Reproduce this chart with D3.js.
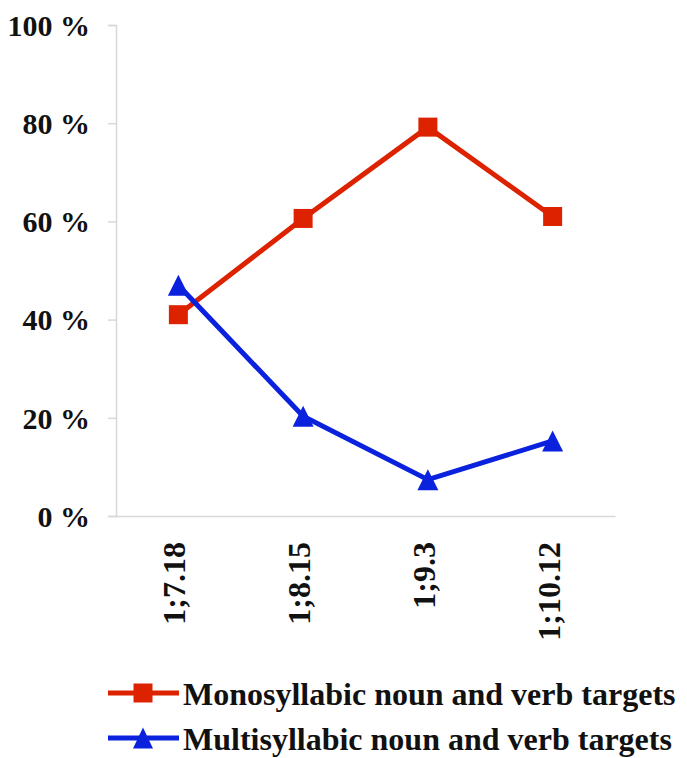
<!DOCTYPE html>
<html><head><meta charset="utf-8">
<script src="https://cdn.jsdelivr.net/npm/d3@7"></script>
<style>body{margin:0;background:#fff}svg{display:block}</style>
</head><body>
<svg id="c" width="687" height="758"></svg>
<script>
const categories = ["1;7.18", "1;8.15", "1;9.3", "1;10.12"];
const monosyllabic = [41, 60.6, 79.2, 61];
const multisyllabic = [47, 20.3, 7.4, 15.3];
const yTicks = [0, 20, 40, 60, 80, 100];
const seriesNames = ["Monosyllabic noun and verb targets", "Multisyllabic noun and verb targets"];

const svg = d3.select("#c");
const font = "'Liberation Serif', 'Times New Roman', serif";
const x = d3.scaleBand().domain(categories).range([116, 615]);
const y = d3.scaleLinear().domain([0, 100]).range([516, 25]);

// y axis
const ya = svg.append("g").attr("transform", "translate(116,0)")
  .call(d3.axisLeft(y).tickValues(yTicks).tickSize(8).tickPadding(18).tickFormat(d => d + " %"));
ya.select(".domain").attr("stroke", "#d8d8d8").attr("stroke-width", 1.5);
ya.selectAll(".tick line").attr("stroke", "#d8d8d8").attr("stroke-width", 1.5);
ya.selectAll("text").style("font-family", font).attr("font-weight", "bold").attr("font-size", 30).attr("fill", "#111").attr("dy", "0.34em");

// x axis
const xa = svg.append("g").attr("transform", "translate(0,516)")
  .call(d3.axisBottom(x).tickSize(0).tickPadding(0));
xa.select(".domain").attr("stroke", "#d8d8d8").attr("stroke-width", 1.5);
xa.selectAll("text").style("font-family", font).attr("font-weight", "bold").attr("font-size", 32).attr("fill", "#111")
  .attr("transform", "rotate(-90)").attr("text-anchor", "end").attr("dy", "0.22em").attr("x", -26).attr("y", 0);

const cx = d => x(d) + x.bandwidth() / 2;
const line = d3.line().x((d, i) => cx(categories[i])).y(d => y(d));

const red = "#dd2200", blue = "#0a22dd";
svg.append("path").datum(monosyllabic).attr("d", line).attr("fill", "none").attr("stroke", red).attr("stroke-width", 5);
svg.append("path").datum(multisyllabic).attr("d", line).attr("fill", "none").attr("stroke", blue).attr("stroke-width", 5);

const sq = s => `M${-s/2},${-s/2}h${s}v${s}h${-s}Z`;
const tri = (w, h) => `M0,${-h/2}L${w/2},${h/2}L${-w/2},${h/2}Z`;
svg.selectAll(".m").data(monosyllabic).join("path").attr("d", sq(19))
  .attr("transform", (d, i) => `translate(${cx(categories[i])},${y(d)})`).attr("fill", red);
svg.selectAll(".t").data(multisyllabic).join("path").attr("d", tri(21, 21))
  .attr("transform", (d, i) => `translate(${cx(categories[i])},${y(d)})`).attr("fill", blue);

// legend
const leg = [{c: red, s: sq(19), ly: 693, by: 705}, {c: blue, s: tri(20, 21), ly: 738, by: 750}];
leg.forEach((l, i) => {
  svg.append("line").attr("x1", 108).attr("x2", 179).attr("y1", l.ly).attr("y2", l.ly).attr("stroke", l.c).attr("stroke-width", 5);
  svg.append("path").attr("d", l.s).attr("transform", `translate(143,${l.ly})`).attr("fill", l.c);
  svg.append("text").attr("x", 183).attr("y", l.by).text(seriesNames[i])
    .style("font-family", font).attr("font-weight", "bold").attr("font-size", 32).attr("fill", "#111");
});
</script>
</body></html>
